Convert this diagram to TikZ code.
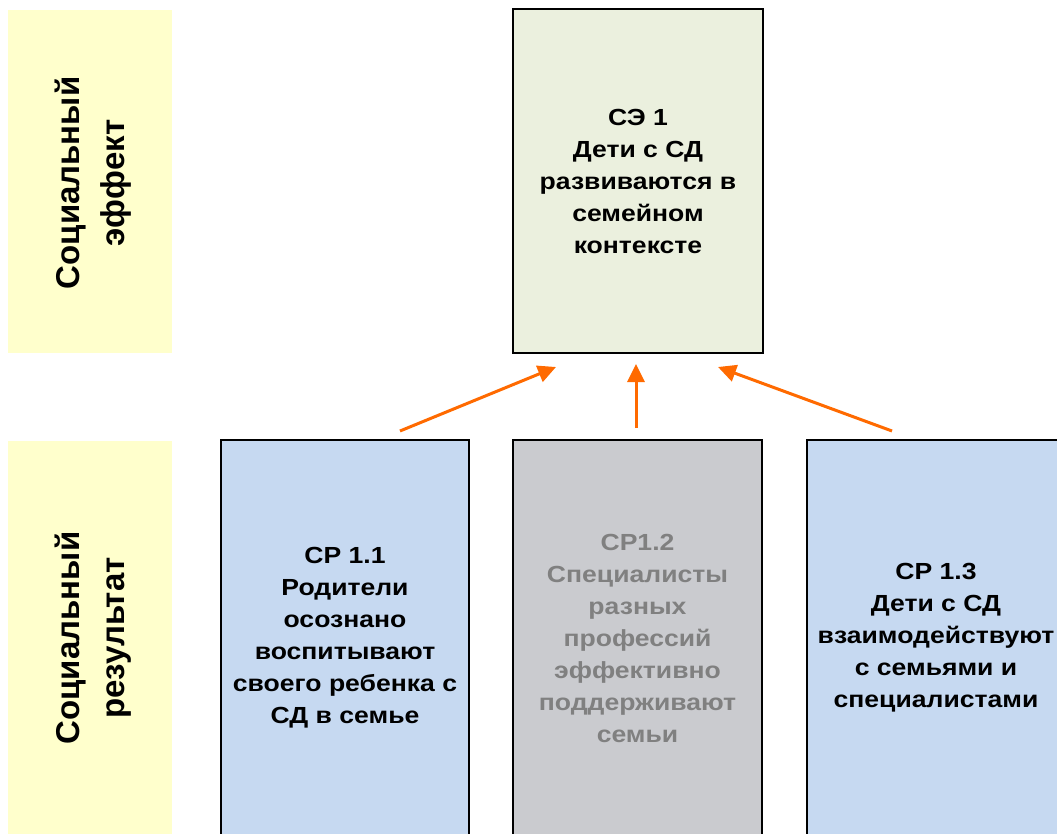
\documentclass[tikz,border=0pt]{standalone}
\usepackage{fontspec}
\setmainfont{Liberation Sans}
\newfontfamily\boxfont[FakeStretch=1.14]{Liberation Sans}
\usetikzlibrary{arrows.meta}
\definecolor{sideyellow}{HTML}{FFFFCC}
\definecolor{topgreen}{HTML}{EBF0DE}
\definecolor{boxblue}{HTML}{C6D9F1}
\definecolor{boxgray}{HTML}{CACBCF}
\definecolor{graytext}{HTML}{808080}
\definecolor{arroworange}{HTML}{FF6A00}
\begin{document}
\begin{tikzpicture}[x=1pt,y=-1pt,
  sidebg/.style={fill=sideyellow, draw=none, minimum width=164pt, inner sep=0pt},
  sidetext/.style={rotate=90, inner sep=0pt, align=center,
    font=\fontsize{33}{45}\selectfont\bfseries},
  effbox/.style={draw=black, line width=2pt, minimum width=250pt, inner sep=0pt, align=center,
    font=\boxfont\fontsize{23.3}{32}\selectfont\bfseries},
  link/.style={draw=arroworange, line width=3pt, -{Triangle[length=18pt,width=17pt]}}
]
\useasboundingbox (0,0) rectangle (1057,834);
\clip (0,0) rectangle (1057,834);
% side labels
\node[sidebg, minimum height=343pt] (bg1) at (90,181.5) {};
\node[sidetext] (lab1) at (93,183) {Социальный\\эффект};
\node[sidebg, minimum height=400pt] (bg2) at (90,641) {};
\node[sidetext] (lab2) at (93,638) {Социальный\\результат};
% top box
\node[effbox, fill=topgreen, minimum height=344pt] (se) at (638,181) {СЭ 1\\Дети с СД\\развиваются в\\семейном\\контексте};
% bottom boxes
\node[effbox, fill=boxblue, minimum width=248pt, minimum height=396pt] (cr1) at (345,638) {СР 1.1\\Родители\\осознано\\воспитывают\\своего ребенка с\\СД в семье};
\node[effbox, fill=boxgray, text=graytext, minimum width=249pt, minimum height=396pt] (cr2) at (637.5,638) {СР1.2\\Специалисты\\разных\\профессий\\эффективно\\поддерживают\\семьи};
\node[effbox, fill=boxblue, minimum width=258pt, minimum height=396pt] (cr3) at (936,638) {СР 1.3\\Дети с СД\\взаимодействуют\\с семьями и\\специалистами};
% arrow ends
\coordinate (s1) at (400,431);
\coordinate (e1) at (556,367);
\coordinate (s2) at (636,428);
\coordinate (e2) at (636,364);
\coordinate (s3) at (892,431);
\coordinate (e3) at (718,367);
\draw[link] (s1) -- (e1);
\draw[link] (s2) -- (e2);
\draw[link] (s3) -- (e3);
\end{tikzpicture}
\end{document}
